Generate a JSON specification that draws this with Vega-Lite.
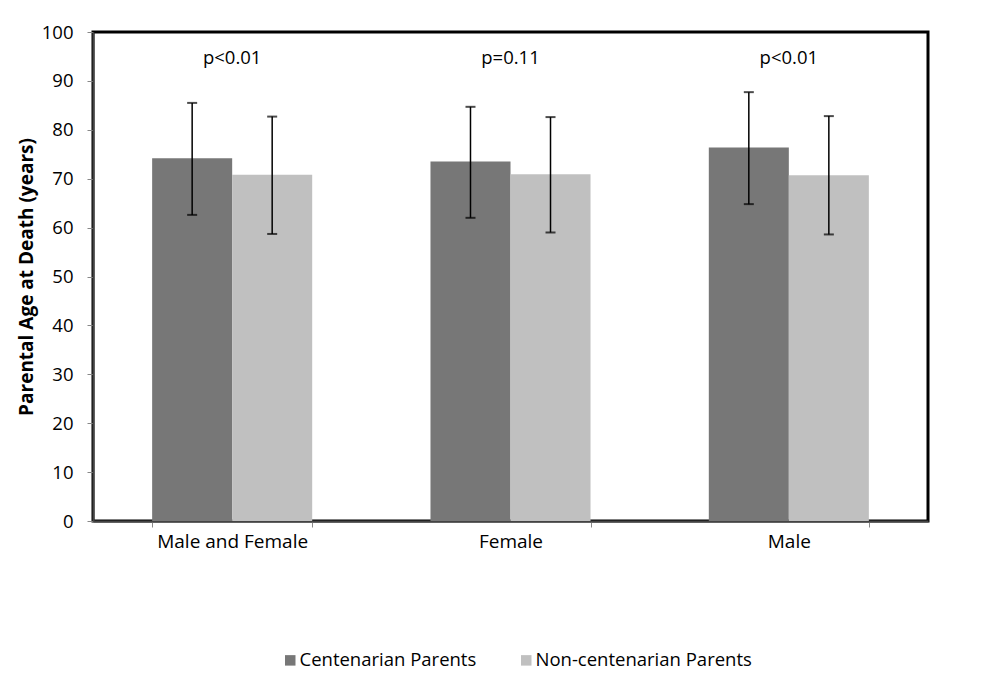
{
  "$schema": "https://vega.github.io/schema/vega-lite/v6.json",
  "autosize": {"type": "none"},
  "width": 835,
  "height": 489,
  "padding": {"left": 93, "top": 32, "right": 80, "bottom": 166},
  "background": "white",
  "config": {
    "font": "Open Sans",
    "view": {"stroke": "black", "strokeWidth": 3},
    "axis": {"labelFont": "Open Sans", "titleFont": "Open Sans", "labelColor": "black", "titleColor": "black"}
  },
  "datasets": {
    "bars": [
      {"category": "Male and Female", "group": "Centenarian Parents", "value": 74.2, "lo": 62.6, "hi": 85.5},
      {"category": "Male and Female", "group": "Non-centenarian Parents", "value": 70.8, "lo": 58.7, "hi": 82.7},
      {"category": "Female", "group": "Centenarian Parents", "value": 73.5, "lo": 62.0, "hi": 84.7},
      {"category": "Female", "group": "Non-centenarian Parents", "value": 70.9, "lo": 59.0, "hi": 82.6},
      {"category": "Male", "group": "Centenarian Parents", "value": 76.4, "lo": 64.8, "hi": 87.7},
      {"category": "Male", "group": "Non-centenarian Parents", "value": 70.7, "lo": 58.6, "hi": 82.8}
    ],
    "labels": [
      {"category": "Male and Female", "label": "p<0.01", "y": 94.7},
      {"category": "Female", "label": "p=0.11", "y": 94.7},
      {"category": "Male", "label": "p<0.01", "y": 94.7}
    ]
  },
  "encoding": {
    "x": {
      "field": "category",
      "type": "nominal",
      "sort": ["Male and Female", "Female", "Male"],
      "scale": {"paddingInner": 0.425, "paddingOuter": 0.2125},
      "axis": {
        "title": null,
        "labelAngle": 0,
        "labelFontSize": 19,
        "labelPadding": 5,
        "tickBand": "extent",
        "tickSize": 6,
        "tickColor": "#888888",
        "domainColor": "#444444",
        "domainWidth": 2
      }
    },
    "y": {
      "field": "value",
      "type": "quantitative",
      "scale": {"domain": [0, 100], "nice": false},
      "axis": {
        "title": "Parental Age at Death (years)",
        "titleFontSize": 19,
        "titleFontWeight": "bold",
        "titlePadding": 5,
        "labelFontSize": 18.5,
        "labelPadding": 14,
        "values": [0, 10, 20, 30, 40, 50, 60, 70, 80, 90, 100],
        "labelOverlap": false,
        "grid": false,
        "tickSize": 6,
        "tickColor": "#888888",
        "domainColor": "#444444",
        "domainWidth": 2
      }
    }
  },
  "layer": [
    {
      "data": {"name": "bars"},
      "mark": {"type": "bar"},
      "encoding": {
        "xOffset": {"field": "group", "type": "nominal", "sort": ["Centenarian Parents", "Non-centenarian Parents"]},
        "color": {
          "field": "group",
          "type": "nominal",
          "sort": ["Centenarian Parents", "Non-centenarian Parents"],
          "scale": {"range": ["#777777", "#c0c0c0"]},
          "legend": {
            "title": null,
            "orient": "none",
            "direction": "horizontal",
            "legendX": 188,
            "legendY": 619,
            "symbolType": "square",
            "symbolSize": 110,
            "symbolStrokeWidth": 0,
            "labelFontSize": 18.5,
            "labelColor": "black",
            "labelFont": "Open Sans",
            "labelLimit": 400,
            "columnPadding": 40,
            "labelOffset": 0
          }
        }
      }
    },
    {
      "data": {"name": "bars"},
      "mark": {"type": "rule", "color": "black", "strokeWidth": 1.5},
      "encoding": {
        "xOffset": {"field": "group", "type": "nominal", "sort": ["Centenarian Parents", "Non-centenarian Parents"]},
        "y": {"field": "lo", "type": "quantitative"},
        "y2": {"field": "hi"}
      }
    },
    {
      "data": {"name": "bars"},
      "mark": {"type": "tick", "color": "black", "size": 10, "thickness": 2},
      "encoding": {
        "xOffset": {"field": "group", "type": "nominal", "sort": ["Centenarian Parents", "Non-centenarian Parents"]},
        "y": {"field": "lo", "type": "quantitative"}
      }
    },
    {
      "data": {"name": "bars"},
      "mark": {"type": "tick", "color": "black", "size": 10, "thickness": 2},
      "encoding": {
        "xOffset": {"field": "group", "type": "nominal", "sort": ["Centenarian Parents", "Non-centenarian Parents"]},
        "y": {"field": "hi", "type": "quantitative"}
      }
    },
    {
      "data": {"name": "labels"},
      "mark": {"type": "text", "fontSize": 18.5, "color": "black", "font": "Open Sans"},
      "encoding": {
        "y": {"field": "y", "type": "quantitative"},
        "text": {"field": "label"}
      }
    }
  ]
}
